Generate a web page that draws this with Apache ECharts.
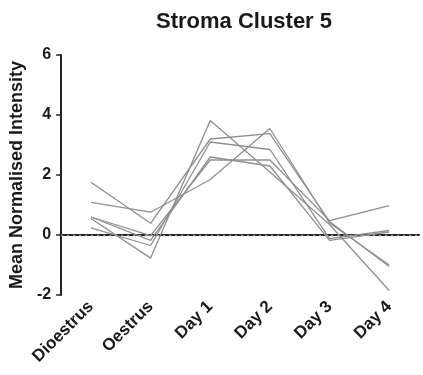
<!DOCTYPE html>
<html>
<head>
<meta charset="utf-8">
<script src="https://cdn.jsdelivr.net/npm/echarts@6/dist/echarts.min.js"></script>
<style>html,body{margin:0;padding:0;background:#fff;}#c{width:423px;height:375px;}</style>
</head>
<body>
<div id="c"></div>
<script>
var categories = ['Dioestrus', 'Oestrus', 'Day 1', 'Day 2', 'Day 3', 'Day 4'];
var line1 = [0.55, -0.77, 3.82, 2.1, 0.35, -1.85];
var line2 = [1.76, 0.39, 3.2, 3.38, 0.45, -1.05];
var line3 = [1.09, 0.76, 1.85, 3.55, 0.4, -1.0];
var line4 = [0.6, -0.02, 2.5, 2.5, 0.48, 0.98];
var line5 = [0.24, -0.35, 3.1, 2.85, -0.12, 0.15];
var line6 = [0.6, -0.18, 2.6, 2.3, -0.18, 0.1];
var yTicks = [-2, 0, 2, 4, 6];
var title = 'Stroma Cluster 5';
var yName = 'Mean Normalised Intensity';

var allLines = [line1, line2, line3, line4, line5, line6];
var font = 'Liberation Sans, Arial, sans-serif';
var chart = echarts.init(document.getElementById('c'));
var series = allLines.map(function (d, i) {
  var s = {
    type: 'line', data: d, symbol: 'none', silent: true,
    lineStyle: { color: '#8f8f8f', width: 1.3 },
    itemStyle: { color: '#8f8f8f' }
  };
  if (i === 0) {
    s.markLine = {
      silent: true, symbol: ['none', 'none'], label: { show: false },
      lineStyle: { type: [2, 4], color: '#a0a0a0', width: 1.3, opacity: 1 },
      emphasis: { disabled: true },
      data: [{ yAxis: 0, lineStyle: { color: '#a0a0a0', type: [2, 4], width: 1.3 } }]
    };
  }
  return s;
});
chart.setOption({
  animation: false,
  backgroundColor: '#fff',
  title: {
    text: title, left: 239, top: 6, textAlign: 'center',
    textStyle: { fontFamily: font, fontWeight: 'bold', fontSize: 22, color: '#1a1a1a' }
  },
  grid: { left: 59, right: 4, top: 55, bottom: 80, containLabel: false },
  xAxis: {
    type: 'category', data: categories, boundaryGap: true,
    axisLine: { lineStyle: { color: '#222', width: 2 } },
    axisTick: { alignWithLabel: true, length: 5, lineStyle: { color: '#222', width: 1.5 } },
    axisLabel: { rotate: 45, margin: 9, interval: 0, fontFamily: font, fontWeight: 'bold', fontSize: 17, color: '#1a1a1a' },
    splitLine: { show: false }
  },
  yAxis: {
    type: 'value', min: yTicks[0], max: yTicks[yTicks.length - 1], interval: 2,
    name: yName, nameLocation: 'middle', nameRotate: 90, nameGap: 29,
    nameTextStyle: { fontFamily: font, fontWeight: 'bold', fontSize: 18, color: '#1a1a1a' },
    axisLine: { show: true, lineStyle: { color: '#222', width: 2 } },
    axisTick: { show: true, length: 5, lineStyle: { color: '#222', width: 1.5 } },
    axisLabel: { margin: 10, fontFamily: font, fontWeight: 'bold', fontSize: 16, color: '#1a1a1a' },
    splitLine: { show: false }
  },
  series: series
});
</script>
</body>
</html>
